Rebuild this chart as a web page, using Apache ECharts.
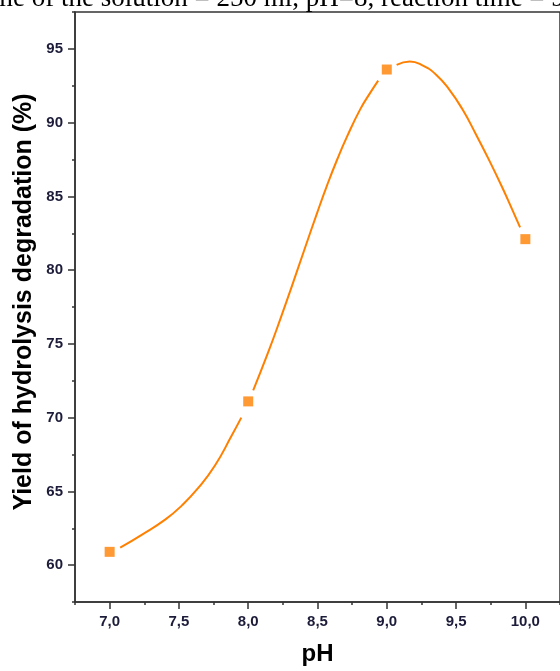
<!DOCTYPE html>
<html><head><meta charset="utf-8">
<script src="https://cdn.jsdelivr.net/npm/echarts@6/dist/echarts.min.js"></script>
<style>html,body{margin:0;padding:0;background:#fff;overflow:hidden}#c{width:560px;height:671px}</style>
</head><body><div id="c"></div>
<script>
// Measured points
const phValues = [7.0, 8.0, 9.0, 10.0];
const yieldValues = [60.9, 71.1, 93.6, 82.1];
// Fitted curve (null = gap around a marker)
const curvePh = [7.076, 7.237, 7.403, 7.522, 7.641, 7.760, 7.879, 7.950, 8.0,
  8.036, 8.143, 8.238, 8.309, 8.404, 8.5, 8.571, 8.642, 8.713, 8.808, 8.879, 8.938, 9.0,
  9.071, 9.166, 9.261, 9.356, 9.451, 9.546, 9.641, 9.736, 9.831, 9.903, 9.962];
const curveYield = [61.18, 62.09, 63.10, 64.05, 65.25, 66.75, 68.75, 70.0, null,
  71.85, 74.40, 76.85, 78.75, 81.35, 83.95, 85.80, 87.50, 89.05, 90.90, 92.00, 92.85, null,
  93.92, 94.15, 93.86, 93.25, 92.24, 90.90, 89.25, 87.50, 85.65, 84.15, 82.90];
const xTickValues = [7.0, 7.5, 8.0, 8.5, 9.0, 9.5, 10.0];
const yTickValues = [60, 65, 70, 75, 80, 85, 90, 95];
const xAxisTitle = 'pH';
const yAxisTitle = 'Yield of hydrolysis degradation (%)';
const headerText = 'me of the solution = 250 ml, pH=8, reaction time = 9';

const AX = '#333333';
const LBL = '#1c1c3a';
const SANS = '"Liberation Sans", Arial, sans-serif';
const ORANGE = '#ff8000';

const chart = echarts.init(document.getElementById('c'), null, {renderer: 'canvas'});
const curveData = curvePh.map((x, i) => [x, curveYield[i] === null ? '-' : curveYield[i]]);
const pointData = phValues.map((x, i) => [x, yieldValues[i]]);

const gridPos = {left: 75, top: 12, width: 491, height: 594.4};
chart.setOption({
  animation: false,
  backgroundColor: '#ffffff',
  grid: Object.assign({show: true, borderColor: AX, borderWidth: 1.5, backgroundColor: 'transparent', containLabel: false}, gridPos),
  graphic: [
    {type: 'text', x: -8, y: -1, silent: true,
     style: {text: headerText, font: '27px "Liberation Serif", "Times New Roman", serif', fill: '#000', textAlign: 'left', textVerticalAlign: 'middle'}},
    {type: 'text', x: 24, y: 302, rotation: Math.PI / 2, silent: true,
     style: {text: yAxisTitle, font: 'bold 25px ' + SANS, fill: '#000', textAlign: 'center', textVerticalAlign: 'middle'}}
  ],
  xAxis: [
    {type: 'value', min: 6.75, max: 10.25, position: 'bottom',
     name: xAxisTitle, nameLocation: 'middle', nameGap: 40,
     nameTextStyle: {fontFamily: SANS, fontWeight: 'bold', fontSize: 24, color: '#000'},
     axisLine: {show: true, onZero: false, lineStyle: {color: AX, width: 1.5}},
     axisTick: {show: true, customValues: xTickValues, length: 7, lineStyle: {color: AX, width: 1.5}},
     axisLabel: {customValues: xTickValues, margin: 12, fontFamily: SANS, fontWeight: 'bold', fontSize: 15, color: LBL,
       formatter: v => v.toFixed(1).replace('.', ',')},
     splitLine: {show: false}},
    {type: 'value', min: 6.75, max: 10.25, interval: 0.25, position: 'bottom',
     axisLine: {show: false}, axisLabel: {show: false}, splitLine: {show: false},
     axisTick: {show: true, length: 3, lineStyle: {color: AX, width: 1.5}}}
  ],
  yAxis: [
    {type: 'value', min: 57.5, max: 97.5, position: 'left',
     axisLine: {show: true, onZero: false, lineStyle: {color: AX, width: 1.5}},
     axisTick: {show: true, customValues: yTickValues, length: 7, lineStyle: {color: AX, width: 1.5}},
     axisLabel: {customValues: yTickValues, margin: 12, fontFamily: SANS, fontWeight: 'bold', fontSize: 15, color: LBL},
     splitLine: {show: false}},
    {type: 'value', min: 57.5, max: 97.5, interval: 2.5, position: 'left',
     axisLine: {show: false}, axisLabel: {show: false}, splitLine: {show: false},
     axisTick: {show: true, length: 3, lineStyle: {color: AX, width: 1.5}}}
  ],
  series: [
    {type: 'line', name: 'fit', xAxisIndex: 0, yAxisIndex: 0, data: curveData, smooth: 0.5,
     connectNulls: false, showSymbol: false, symbol: 'none',
     lineStyle: {color: ORANGE, width: 2}, z: 2},
    {type: 'scatter', name: 'yield', xAxisIndex: 0, yAxisIndex: 0, data: pointData,
     symbol: 'rect', symbolSize: 10, itemStyle: {color: ORANGE}, z: 3}
  ]
});
</script></body></html>
